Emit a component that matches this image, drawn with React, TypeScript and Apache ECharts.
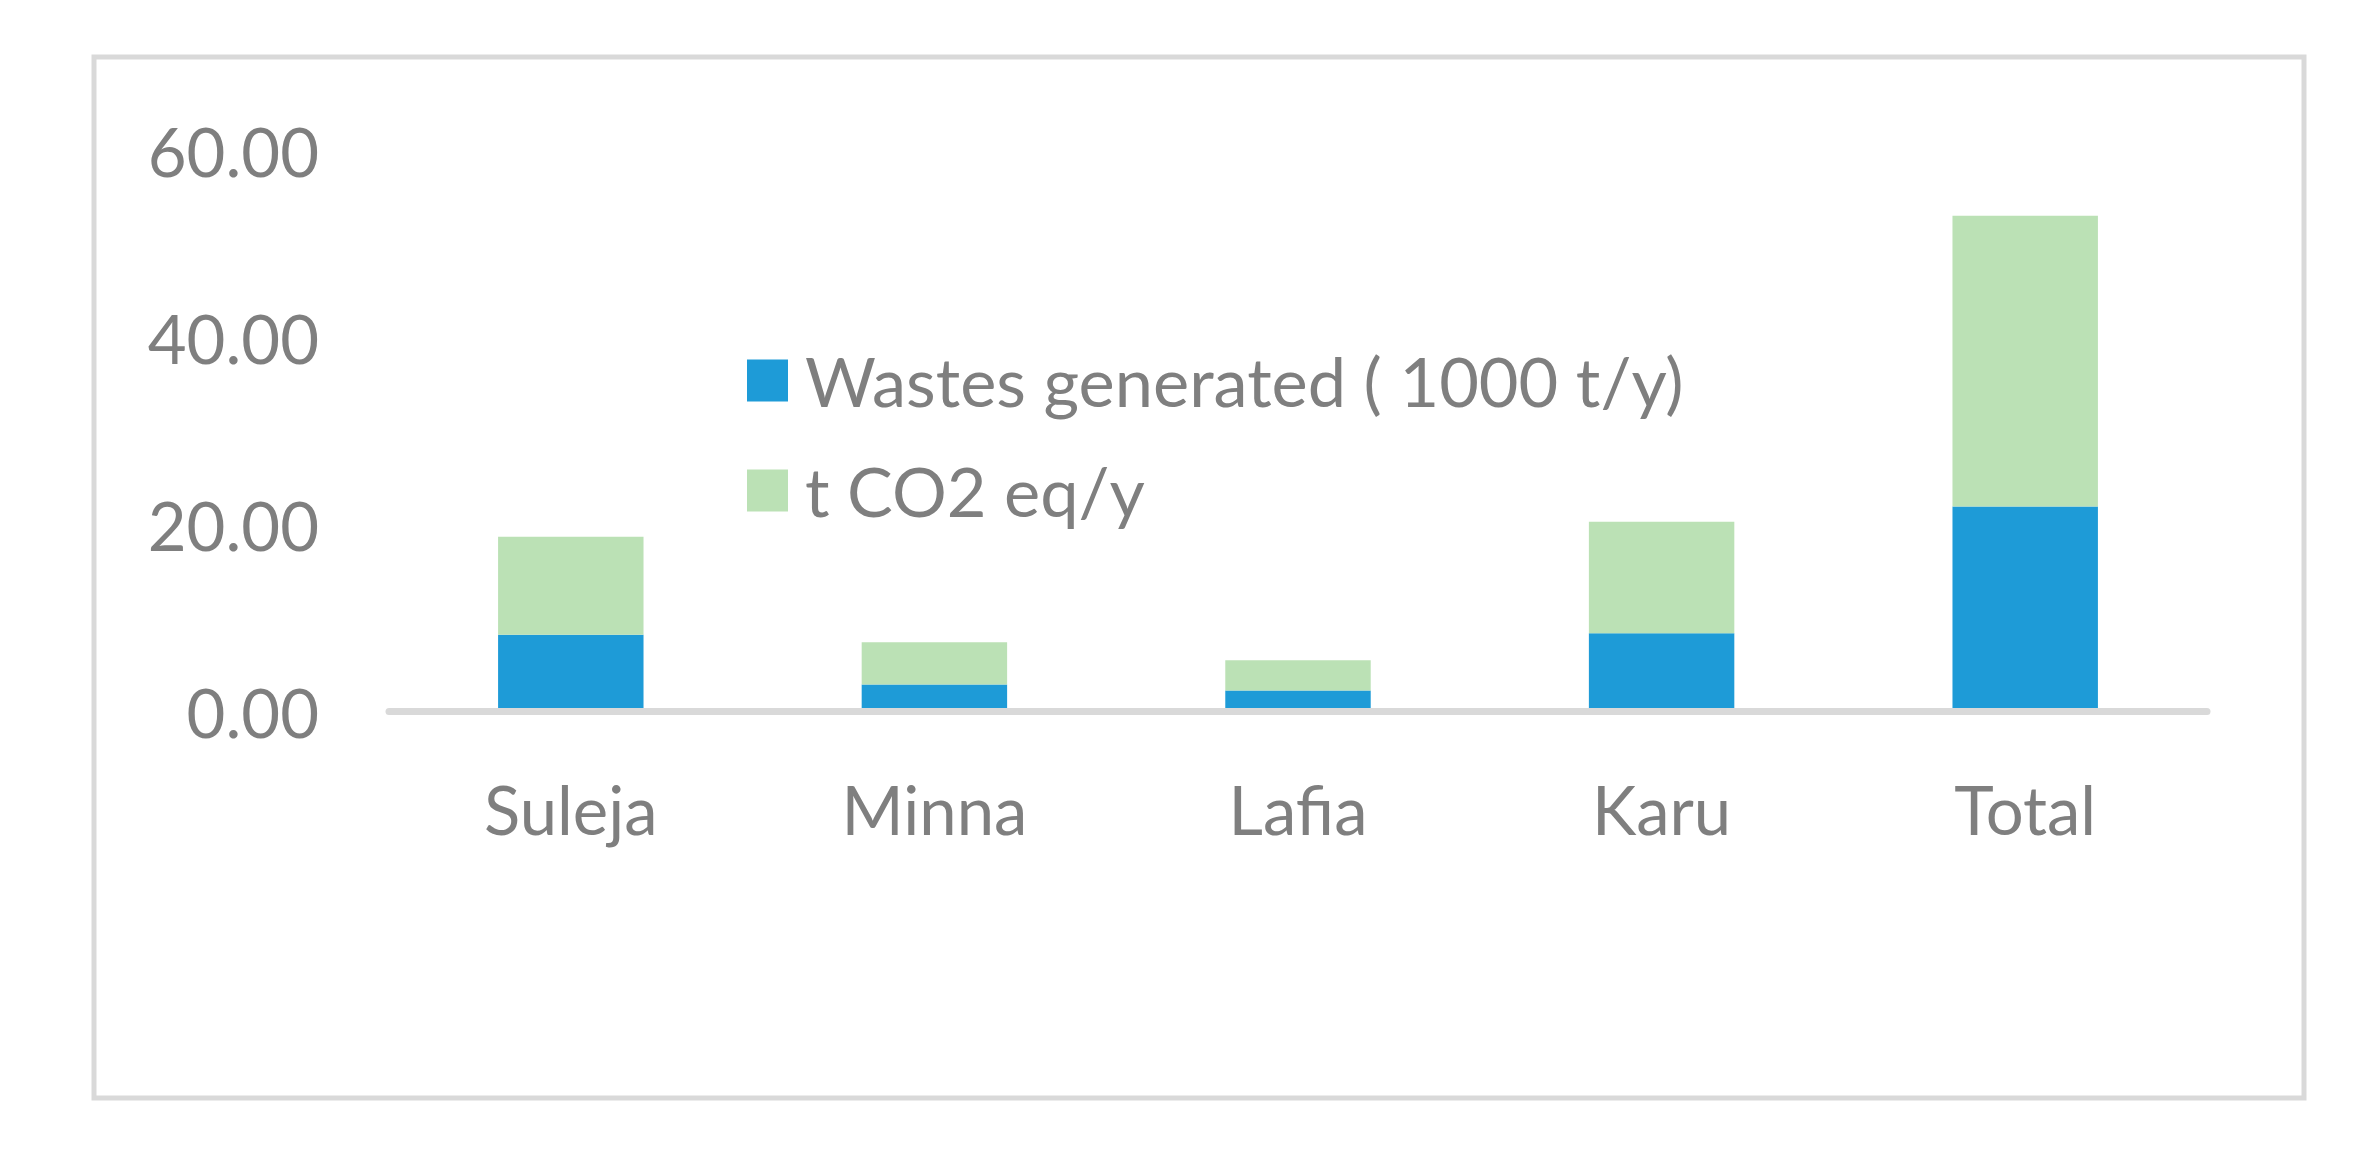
import React, { useEffect, useRef } from "react";
import * as echarts from "echarts";

const categories = ["Suleja", "Minna", "Lafia", "Karu", "Total"];
const wastesGenerated = [8.22, 2.89, 2.25, 8.38, 21.92];
const co2Eq = [10.48, 4.51, 3.22, 11.93, 31.13];
const seriesNames = ["Wastes generated ( 1000 t/y)", "t CO2 eq/y"];

const FONT = "Lato, 'Open Sans', sans-serif";
const GREY = "#7f7f7f";

export default function App() {
  const ref = useRef<HTMLDivElement>(null);
  useEffect(() => {
    if (!ref.current) return;
    const chart = echarts.init(ref.current, undefined, { renderer: "svg" });
    chart.setOption({
      animation: false,
      backgroundColor: "#ffffff",
      graphic: [
        {
          type: "rect",
          shape: { x: 94, y: 57, width: 2210, height: 1041 },
          style: { fill: "none", stroke: "#d9d9d9", lineWidth: 5 },
          z: -1,
        },
      ],
      grid: { left: 389, right: 157, top: 150.7, bottom: 438.5 },
      legend: {
        orient: "vertical",
        left: 742,
        top: 341,
        itemWidth: 41,
        itemHeight: 42,
        itemGap: 41,
        icon: "rect",
        textStyle: { fontFamily: FONT, fontSize: 68.5, color: GREY, lineHeight: 64, padding: [0, 0, 0, 12] },
        data: seriesNames,
      },
      xAxis: {
        type: "category",
        data: categories,
        z: 5,
        axisLine: { lineStyle: { color: "#d9d9d9", width: 7 } },
        axisTick: { show: false },
        axisLabel: { fontFamily: FONT, fontSize: 67, color: GREY, margin: 64, lineHeight: 67 },
      },
      yAxis: {
        type: "value",
        min: 0,
        max: 60,
        interval: 20,
        splitLine: { show: false },
        axisLine: { show: false },
        axisTick: { show: false },
        axisLabel: {
          fontFamily: FONT,
          fontSize: 67,
          color: GREY,
          margin: 70,
          formatter: (v: number) => v.toFixed(2),
        },
      },
      series: [
        {
          name: seriesNames[0],
          type: "bar",
          stack: "a",
          data: wastesGenerated,
          barWidth: "40%",
          itemStyle: { color: "#1e9bd7" },
        },
        {
          name: seriesNames[1],
          type: "bar",
          stack: "a",
          data: co2Eq,
          barWidth: "40%",
          itemStyle: { color: "#bbe1b5" },
        },
      ],
    });
    return () => chart.dispose();
  }, []);
  return (
    <div
      ref={ref}
      style={{ position: "fixed", left: 0, top: 0, width: 2364, height: 1150, background: "#fff" }}
    />
  );
}
